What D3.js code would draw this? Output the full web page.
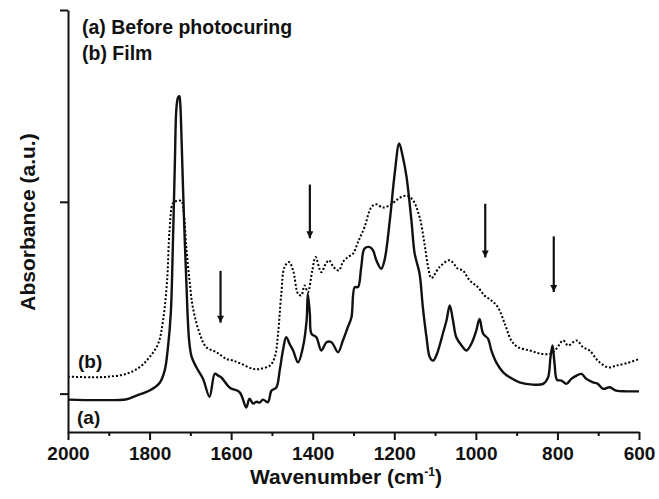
<!DOCTYPE html>
<html>
<head>
<meta charset="utf-8">
<script src="https://cdn.jsdelivr.net/npm/d3@7"></script>
<style>
  body { margin: 0; background: #fff; }
  svg { display: block; }
  text { font-family: "Liberation Sans", Arial, sans-serif; fill: #111; }
</style>
</head>
<body>
<svg id="chart" width="659" height="499"></svg>
<script>
// spectrum (a) before photocuring: [wavenumber, absorbance]
const spectrumA = [
  [2000, -0.031], [1922, -0.034], [1856, -0.029], [1832, -0.010], [1800, 0.016],
  [1775, 0.057], [1763, 0.120], [1755, 0.240], [1748, 0.418], [1743, 0.762],
  [1738, 1.201], [1734, 1.493], [1730, 1.546], [1727, 1.551], [1725, 1.520],
  [1721, 1.285], [1716, 0.940], [1710, 0.590], [1703, 0.277], [1697, 0.193],
  [1685, 0.136], [1669, 0.078], [1653, -0.016], [1640, 0.104], [1632, 0.094],
  [1624, 0.084], [1603, 0.031], [1579, 0.007], [1563, -0.072], [1555, -0.026],
  [1546, -0.052], [1538, -0.042], [1530, -0.047], [1522, -0.031], [1510, -0.045],
  [1501, 0.016], [1489, 0.033], [1481, 0.120], [1473, 0.225], [1465, 0.294],
  [1456, 0.256], [1448, 0.225], [1436, 0.163], [1424, 0.242], [1415, 0.381],
  [1412, 0.521], [1407, 0.416], [1403, 0.312], [1391, 0.294], [1379, 0.225],
  [1366, 0.268], [1354, 0.268], [1338, 0.216], [1326, 0.277], [1314, 0.346],
  [1305, 0.398], [1297, 0.555], [1289, 0.555], [1281, 0.660], [1273, 0.756],
  [1260, 0.764], [1252, 0.747], [1244, 0.695], [1232, 0.651], [1224, 0.695],
  [1211, 0.903], [1199, 1.147], [1188, 1.304], [1179, 1.234], [1170, 1.130],
  [1158, 0.903], [1150, 0.730], [1138, 0.625], [1130, 0.451], [1121, 0.294],
  [1113, 0.190], [1105, 0.172], [1096, 0.204], [1081, 0.312], [1072, 0.381],
  [1064, 0.460], [1056, 0.381], [1048, 0.294], [1035, 0.251], [1023, 0.225],
  [1011, 0.260], [999, 0.329], [991, 0.390], [982, 0.312], [970, 0.286],
  [962, 0.225], [950, 0.163], [933, 0.111], [917, 0.085], [893, 0.059],
  [860, 0.047], [835, 0.051], [823, 0.085], [817, 0.190], [812, 0.251],
  [807, 0.155], [801, 0.072], [790, 0.068], [778, 0.051], [766, 0.077],
  [753, 0.094], [741, 0.103], [729, 0.077], [713, 0.059], [701, 0.051],
  [688, 0.025], [672, 0.033], [656, 0.016], [631, 0.012], [600, 0.012]
]

// spectrum (b) film
const spectrumB = [
  [2000, 0.089], [1939, 0.085], [1898, 0.089], [1857, 0.103], [1825, 0.137],
  [1800, 0.190], [1779, 0.260], [1767, 0.381], [1757, 0.590], [1751, 0.851],
  [1743, 0.991], [1734, 1.004], [1722, 1.004], [1716, 0.938], [1710, 0.764],
  [1702, 0.590], [1694, 0.451], [1677, 0.312], [1661, 0.242], [1636, 0.216],
  [1612, 0.181], [1595, 0.172], [1575, 0.155], [1546, 0.129], [1530, 0.129],
  [1505, 0.146], [1493, 0.190], [1485, 0.312], [1477, 0.521], [1469, 0.660],
  [1458, 0.686], [1448, 0.642], [1436, 0.521], [1428, 0.512], [1420, 0.564],
  [1412, 0.529], [1401, 0.642], [1393, 0.712], [1379, 0.633], [1368, 0.677],
  [1360, 0.695], [1349, 0.660], [1336, 0.642], [1326, 0.686], [1314, 0.712],
  [1301, 0.730], [1289, 0.790], [1273, 0.868], [1256, 0.973], [1244, 0.987],
  [1228, 0.970], [1211, 0.982], [1195, 1.008], [1179, 1.029], [1166, 1.029],
  [1154, 1.008], [1138, 0.921], [1126, 0.782], [1117, 0.660], [1109, 0.603],
  [1089, 0.660], [1064, 0.695], [1044, 0.651], [1032, 0.642], [1015, 0.590],
  [995, 0.555], [979, 0.512], [962, 0.486], [946, 0.451], [929, 0.364],
  [913, 0.277], [897, 0.242], [868, 0.225], [844, 0.210], [819, 0.207],
  [803, 0.233], [786, 0.277], [774, 0.251], [753, 0.277], [737, 0.242],
  [721, 0.225], [701, 0.172], [676, 0.137], [656, 0.146], [631, 0.158],
  [600, 0.180]
]

// arrows marking the acrylate bands: wavenumber, top, tip
const arrows = [
  [1626, 0.64, 0.37],
  [1407, 1.09, 0.81],
  [977, 0.99, 0.71],
  [809, 0.82, 0.53]
]

const majorTicks = [2000, 1800, 1600, 1400, 1200, 1000, 800, 600]
const minorTicks = [1900, 1700, 1500, 1300, 1100, 900, 700]
const yTicks = [0, 1, 2]
const legendLines = ["(a) Before photocuring", "(b) Film"]

const svg = d3.select("#chart")

const x = d3.scaleLinear().domain([2000, 600]).range([68, 639])
const y = d3.scaleLinear().domain([-0.2, 2.0]).range([432, 10])

const line = d3.line()
  .x(d => x(d[0]))
  .y(d => y(d[1]))
  .curve(d3.curveCatmullRom.alpha(0.5))

// spectra
svg.append("path")
  .datum(spectrumB)
  .attr("d", line)
  .attr("fill", "none")
  .attr("stroke", "#000")
  .attr("stroke-width", 2)
  .attr("stroke-dasharray", "2,2")

svg.append("path")
  .datum(spectrumA)
  .attr("d", line)
  .attr("fill", "none")
  .attr("stroke", "#111")
  .attr("stroke-width", 2.4)
  .attr("stroke-linejoin", "round")

// arrows
svg.append("defs").append("marker")
  .attr("id", "head")
  .attr("viewBox", "0 0 10 10")
  .attr("refX", 10).attr("refY", 5)
  .attr("markerUnits", "userSpaceOnUse")
  .attr("markerWidth", 10).attr("markerHeight", 7)
  .attr("orient", "auto")
  .append("path")
  .attr("d", "M0,0 L10,5 L0,10 Z")
  .attr("fill", "#111")

svg.append("g")
  .selectAll("line")
  .data(arrows)
  .join("line")
  .attr("x1", d => x(d[0]))
  .attr("x2", d => x(d[0]))
  .attr("y1", d => y(d[1]))
  .attr("y2", d => y(d[2]))
  .attr("stroke", "#111")
  .attr("stroke-width", 2.2)
  .attr("marker-end", "url(#head)")

// axes
const xAxis = svg.append("g")
  .attr("transform", `translate(0,${y(-0.2)})`)
  .call(d3.axisBottom(x).tickValues(majorTicks).tickSize(8).tickSizeOuter(0)
    .tickPadding(7).tickFormat(d3.format("d")))

svg.append("g")
  .attr("transform", `translate(0,${y(-0.2)})`)
  .call(d3.axisBottom(x).tickValues(minorTicks).tickSize(4).tickFormat(""))
  .call(g => g.select(".domain").remove())

svg.append("g")
  .attr("transform", `translate(${x(2000)},0)`)
  .call(d3.axisLeft(y).tickValues(yTicks).tickSize(8).tickSizeOuter(0).tickFormat(""))

svg.selectAll(".domain").attr("stroke", "#111").attr("stroke-width", 2)
svg.selectAll(".tick line").attr("stroke", "#111").attr("stroke-width", 2)

xAxis.selectAll("text")
  .attr("font-size", 19)
  .attr("font-weight", "bold")
  .attr("font-family", "Liberation Sans, Arial, sans-serif")
  .attr("fill", "#111")

// axis titles
const xTitle = svg.append("text")
  .attr("x", 346)
  .attr("y", 484)
  .attr("text-anchor", "middle")
  .attr("font-size", 21)
  .attr("font-weight", "bold")
  .text("Wavenumber (cm")
xTitle.append("tspan").attr("dy", -8).attr("font-size", 12).text("-1")
xTitle.append("tspan").attr("dy", 8).text(")")

svg.append("text")
  .attr("transform", "translate(35,222) rotate(-90)")
  .attr("text-anchor", "middle")
  .attr("font-size", 21)
  .attr("font-weight", "bold")
  .text("Absorbance (a.u.)")

// legend
svg.append("g")
  .selectAll("text")
  .data(legendLines)
  .join("text")
  .attr("x", 82)
  .attr("y", (d, i) => 34 + i * 26)
  .attr("font-size", 19.5)
  .attr("font-weight", "bold")
  .text(d => d)

// curve labels
svg.append("text").attr("x", 78).attr("y", 368).attr("font-size", 19).attr("font-weight", "bold").text("(b)")
svg.append("text").attr("x", 77).attr("y", 424).attr("font-size", 19).attr("font-weight", "bold").text("(a)")
</script>
</body>
</html>
